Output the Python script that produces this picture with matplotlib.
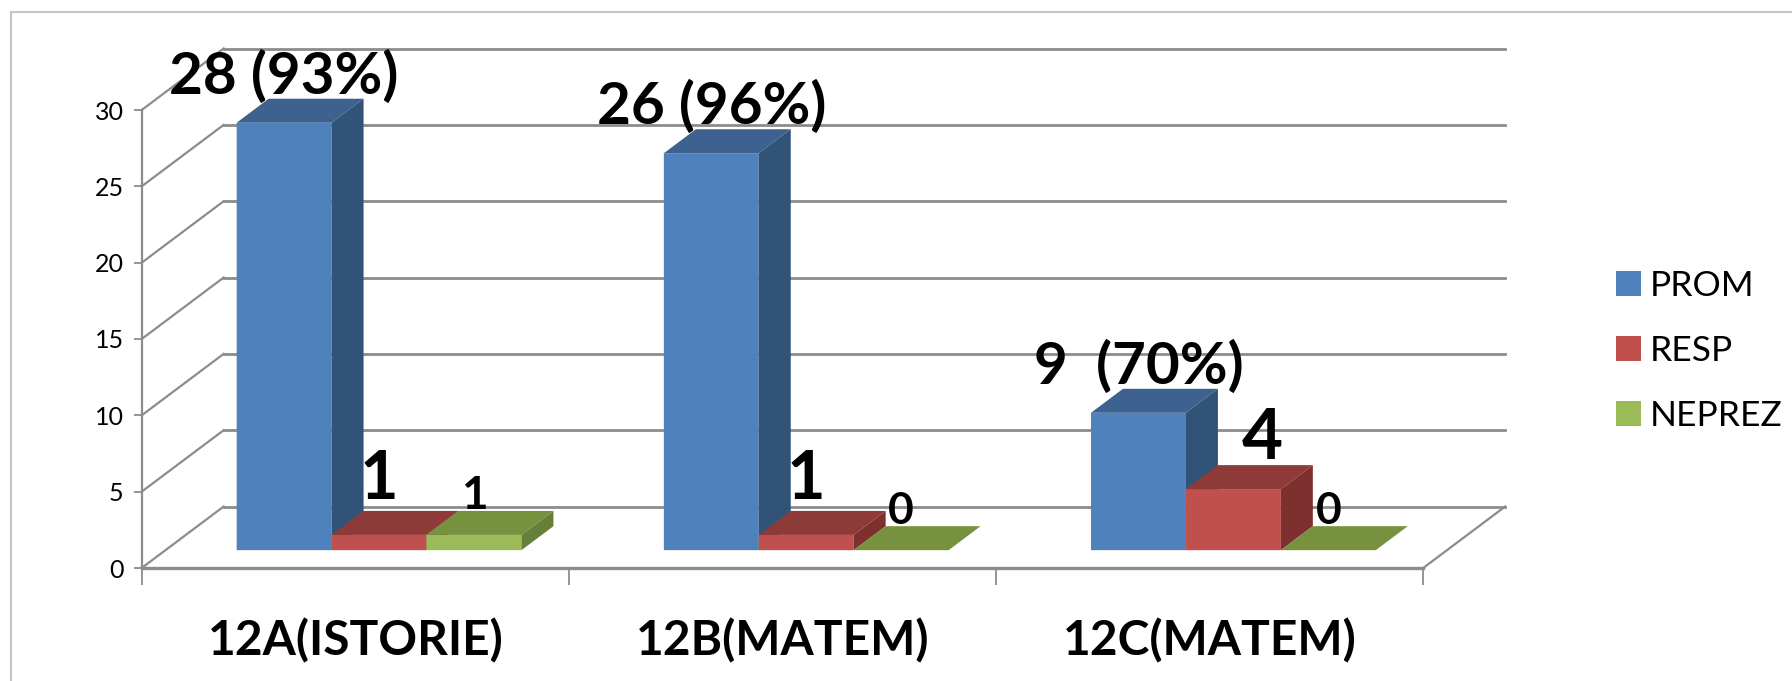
import matplotlib
matplotlib.use("Agg")
import matplotlib.pyplot as plt
from matplotlib.patches import Patch, Rectangle

plt.rcParams['font.family'] = ['Lato', 'DejaVu Sans']

categories = ['12A(ISTORIE)', '12B(MATEM)', '12C(MATEM)']
series_names = ['PROM', 'RESP', 'NEPREZ']
prom = [28, 26, 9]
resp = [1, 1, 4]
neprez = [1, 0, 0]
prom_labels = ['28 (93%)', '26 (96%)', '9  (70%)']
resp_labels = ['1', '1', '4']
neprez_labels = ['1', '0', '0']
yticks = [0, 5, 10, 15, 20, 25, 30]

W, H = 1792, 681
GRID = '#8C8C8C'
front = ['#4F81BD', '#C0504D', '#9BBB59']
top = ['#3D628F', '#8E3A38', '#76923F']
side = ['#325378', '#7D302E', '#66803A']

fig = plt.figure(figsize=(W / 100, H / 100), dpi=100)
fig.add_artist(Rectangle((11 / W, -0.1), 1.2, 0.1 + (H - 12) / H, transform=fig.transFigure,
                         fill=False, ec='#C4C4C4', lw=1.5))
ax = fig.add_axes([141.7 / W, (H - 568) / H, 1281.5 / W, 458 / H])
ax.set_xlim(0, 3)
ax.set_ylim(0, 30)
for s in ax.spines.values():
    s.set_visible(False)
ax.patch.set_alpha(0)

DX, DY = 82 / 427.2, 61.5 / 15.27        # full floor depth in data units
BAR_D0, BAR_D = 0.29, 0.39               # bar start and depth as share of the floor
BW, MARGIN = 2 / 9, 1 / 6
GLW = 2.0

# walls
for v in yticks:
    ax.plot([0, DX], [v, v + DY], color=GRID, lw=GLW - 0.4, clip_on=False, zorder=1)
    ax.plot([DX, 3 + DX], [v + DY, v + DY], color=GRID, lw=GLW, clip_on=False, zorder=1)
ax.plot([0, 3], [0, 0], color=GRID, lw=GLW + 0.4, clip_on=False, zorder=1)
ax.plot([3, 3 + DX], [0, DY], color=GRID, lw=GLW - 0.4, clip_on=False, zorder=1)
ax.plot([0, 0], [0, 30], color=GRID, lw=GLW - 0.4, clip_on=False, zorder=1)

ax.set_xticks(range(4))
ax.set_xticklabels([])
ax.set_xticks([0.5, 1.5, 2.5], categories, minor=True, fontsize=34.5, fontweight='bold')
ax.tick_params(axis='x', which='major', length=12, width=1.3, color=GRID)
ax.tick_params(axis='x', which='minor', length=0, pad=36)
ax.set_yticks(yticks)
ax.tick_params(axis='y', length=6, width=1.3, color=GRID, labelsize=18, pad=7)

x0 = BAR_D0 * DX
y0 = BAR_D0 * DY
ddx, ddy = BAR_D * DX, BAR_D * DY
all_vals = [prom, resp, neprez]
all_labels = [prom_labels, resp_labels, neprez_labels]
sizes = [[42, 42, 42], [48, 48, 51], [33, 32, 32]]
off_pts = [46, 55, 39]

for c in range(3):
    for j in range(3):
        v = all_vals[j][c]
        xl = c + MARGIN + j * BW + x0
        xr = xl + BW
        yb, yt = y0, y0 + v
        ax.bar(xl, v, width=BW, bottom=yb, align='edge', color=front[j], lw=0, zorder=3,
               clip_on=False, snap=False)
        ax.fill([xl, xr, xr + ddx, xl + ddx], [yt, yt, yt + ddy, yt + ddy],
                color=top[j], lw=0, zorder=3, clip_on=False)
        ax.fill([xr, xr + ddx, xr + ddx, xr], [yb, yb + ddy, yt + ddy, yt],
                color=side[j], lw=0, zorder=3, clip_on=False)
        is_four = all_labels[j][c] == '4'
        shift = 29 if is_four else 0
        rise = 51 if is_four else off_pts[j]
        ax.annotate(all_labels[j][c], ((xl + xr) / 2, yt), xytext=(shift * 0.72, rise * 0.72),
                    textcoords='offset points', ha='center', va='center',
                    fontsize=sizes[j][c], fontweight='bold', color='black', zorder=5,
                    annotation_clip=False)

handles = [Patch(color=front[i], lw=0) for i in range(3)]
fig.legend(handles, series_names, loc='center left', bbox_to_anchor=(1616 / W, (H - 351) / H),
           frameon=False, fontsize=25.5, handlelength=0.7, handleheight=0.7,
           labelspacing=0.93, handletextpad=0.25, borderpad=0, borderaxespad=0)

fig.savefig('out.png', dpi=100)
